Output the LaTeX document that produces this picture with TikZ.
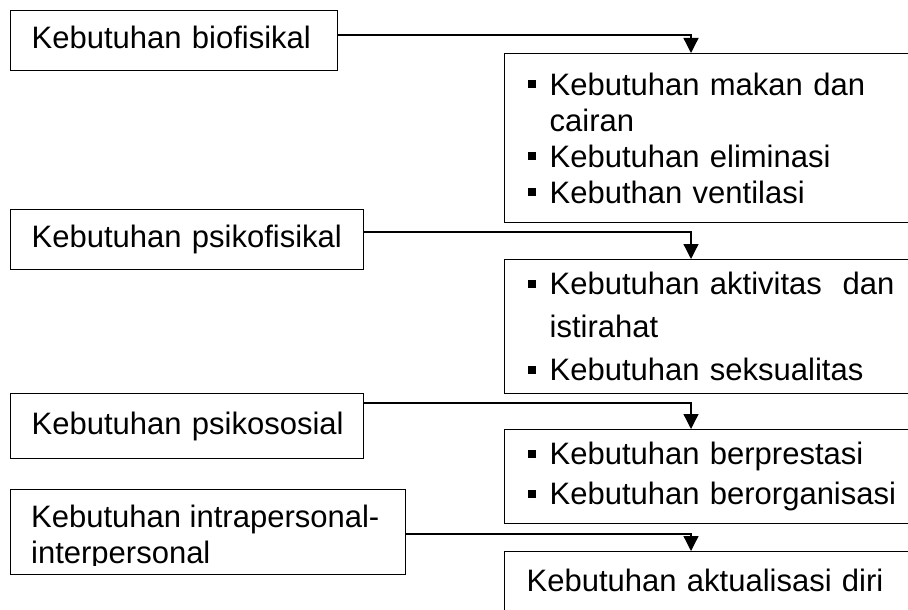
\documentclass[tikz,border=0pt]{standalone}
\usepackage{fontspec}
\setmainfont{Liberation Sans}
\usetikzlibrary{arrows.meta}

\newcommand{\bul}{\makebox[22pt][l]{\rule[7pt]{8pt}{8pt}}}

\begin{document}
\begin{tikzpicture}[x=1pt,y=-1pt,
    font=\fontsize{31}{36}\selectfont,
    needbox/.style={draw, line width=1.3pt, anchor=north west, align=left,
      inner xsep=21pt, inner ysep=0pt, text height=23pt, text depth=7pt},
    listbox/.style={draw, line width=1.3pt, anchor=north west, align=left,
      inner xsep=23pt, inner ysep=0pt, text width=380pt},
    link/.style={line width=1.3pt, -{Triangle[width=15pt,length=15pt]}}]
  \path[use as bounding box, clip] (0,0) rectangle (908,610);

  % Left boxes
  \node[needbox, text width=285pt, minimum height=60pt] (need1) at (10,10) {\mbox{Kebutuhan biofisikal}};
  \node[needbox, text width=311pt, minimum height=60pt] (need2) at (10,209) {\mbox{Kebutuhan psikofisikal}};
  \node[needbox, text width=311pt, minimum height=65pt] (need3) at (10,393) {\mbox{Kebutuhan psikososial}};
  \node[needbox, text width=353pt, minimum height=85pt] (need4) at (10,489) {};
  \begin{scope}
    \clip (need4.north west) rectangle ([yshift=10pt]need4.south east);
    \node[anchor=north west, align=left, inner sep=0pt] (need4txt) at (31,504.5)
      {Kebutuhan intrapersonal-\\interpersonal};
  \end{scope}

  % Right boxes
  \node[listbox, minimum height=169pt] (list1) at (504,53)
    {\bul Kebutuhan makan dan\\ \hspace*{22pt}cairan\\ \bul Kebutuhan eliminasi\\ \bul Kebuthan ventilasi};
  \node[listbox, minimum height=134pt] (list2) at (504,259)
    {\bul Kebutuhan aktivitas\ \ dan\\[7pt] \hspace*{22pt}istirahat\\[7pt] \bul Kebutuhan seksualitas};
  \node[listbox, minimum height=94pt] (list3) at (504,429)
    {\bul Kebutuhan berprestasi\\[4pt] \bul Kebutuhan berorganisasi};
  \node[listbox, inner xsep=22pt, inner ysep=17pt, text height=23pt, text depth=15pt] (list4) at (504,551)
    {Kebutuhan aktualisasi diri};

  % Connectors
  \coordinate (k1) at (691,35);
  \coordinate (k2) at (691,232);
  \coordinate (k3) at (691,403);
  \coordinate (k4) at (691,534);
  \draw[link] (need1.east |- k1) -- (k1) -- (k1 |- list1.north);
  \draw[link] (need2.east |- k2) -- (k2) -- (k2 |- list2.north);
  \draw[link] (need3.east |- k3) -- (k3) -- (k3 |- list3.north);
  \draw[link] (need4.east |- k4) -- (k4) -- (k4 |- list4.north);
\end{tikzpicture}
\end{document}
